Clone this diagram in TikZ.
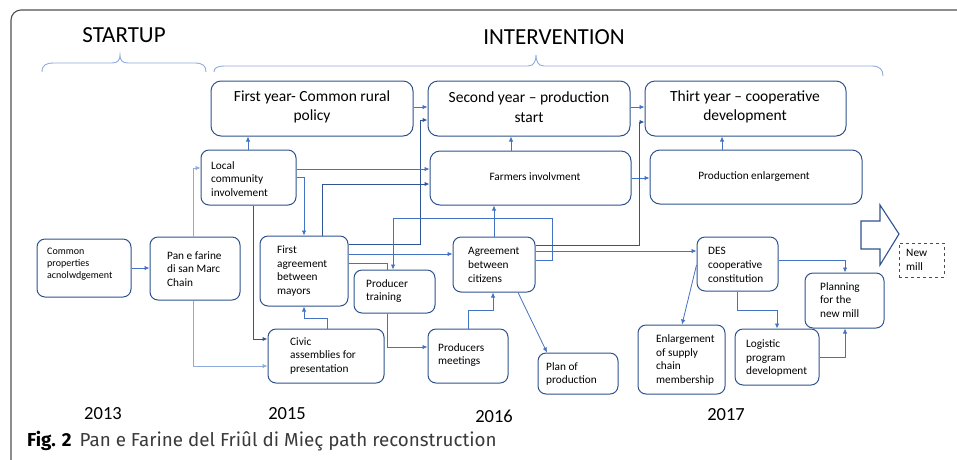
\documentclass[tikz,border=0pt]{standalone}
\usepackage{fontspec}
\setmainfont{Carlito}
\newfontfamily\capfont{Fira Sans}
\usetikzlibrary{arrows.meta}
\definecolor{boxblue}{HTML}{2F528F}
\definecolor{lineblue}{HTML}{4472C4}
\definecolor{darkline}{HTML}{2F5597}
\definecolor{lightline}{HTML}{8FAADC}
\definecolor{framegray}{HTML}{505050}
\definecolor{capgray}{HTML}{3A3A3A}
\newcommand\bx[6][]{\node[box,#1,minimum width={(#5-#3)*1pt},minimum height={(#6-#4)*1pt}] (#2) at ({(#3+#5)/2},{(#4+#6)/2}) {};}
\begin{document}
\begin{tikzpicture}[x=1pt,y=-1pt,
  box/.style={draw=boxblue,fill=white,rounded corners=8pt,line width=1pt,inner sep=0pt},
  bigbox/.style={box,rounded corners=10pt},
  title/.style={align=center,font=\fontsize{15.5}{19.5}\selectfont,inner sep=0pt},
  txt/.style={align=left,font=\fontsize{11.3}{13.7}\selectfont,inner sep=0pt,anchor=west},
  smalltxt/.style={txt,font=\fontsize{10}{12}\selectfont},
  ctxt/.style={align=center,font=\fontsize{11.3}{13.7}\selectfont,inner sep=0pt},
  yeartxt/.style={font=\fontsize{18.5}{20}\selectfont,inner sep=0pt},
  headtxt/.style={font=\fontsize{23}{26}\selectfont,inner sep=0pt},
  conn/.style={draw=lineblue,line width=0.8pt,-{Latex[length=5pt,width=4.5pt]}},
  darkconn/.style={conn,draw=darkline,line width=1pt},
  lightconn/.style={conn,draw=lightline},
  plain/.style={draw=lineblue,line width=0.8pt},
  bracestyle/.style={draw=lightline,line width=0.9pt},
  bigarrow/.style={draw=boxblue,fill=white,line width=1.1pt,line join=miter}
]
\useasboundingbox (0,0) rectangle (957,459);
% frame
\draw[framegray,line width=1.1pt,rounded corners=10pt] (11,462) -- (11,10) -- (960,10);
% headings
\node[headtxt] (hs) at (124,35) {STARTUP};
\node[headtxt] (hi) at (554,37) {INTERVENTION};
% braces
\draw[bracestyle] (42,72) .. controls (42,65) and (46,63) .. (54,63) -- (112,63) .. controls (118,63) and (120,60) .. (120,55) .. controls (120,60) and (122,63) .. (128,63) -- (195,63) .. controls (203,63) and (206,66) .. (206,72);
\draw[bracestyle] (214,72) .. controls (214,68) and (217,66) .. (225,66) -- (528,66) .. controls (534,66) and (536,61) .. (536,55) .. controls (536,61) and (538,66) .. (544,66) -- (872,66) .. controls (880,66) and (883,70) .. (883,76);
% boxes
\bx[bigbox]{fy}{211}{81}{413}{136}
\bx[bigbox]{sy}{428}{81}{630}{136}
\bx[bigbox]{ty}{645}{81}{846}{136}
\bx{lc}{201}{150}{296}{205}
\bx[bigbox]{fi}{430}{151}{631}{205}
\bx[bigbox]{pe}{650}{150}{862}{204}
\bx{cp}{37}{239}{131}{297}
\bx{pf}{150}{237}{240}{300}
\bx{fa}{260}{236}{348}{306}
\bx{pt}{354}{270}{435}{313}
\bx{ca}{268}{329}{384}{383}
\bx{ac}{453}{237}{535}{292}
\bx{pm}{428}{329}{508}{383}
\bx{pp}{538}{353}{618}{394}
\bx{des}{697}{237}{778}{291}
\bx{esc}{638}{325}{725}{394}
\bx{lp}{735}{329}{819}{385}
\bx{pl}{805}{273}{884}{328}
\bx[draw=black!70,dashed,rounded corners=0pt,line width=0.9pt]{nm}{899}{243}{944}{277}
% texts
\node[title] (fyt) at (312,107) {First year- Common rural\\policy};
\node[title] (syt) at (529,107) {Second year – production\\start};
\node[title] (tyt) at (745,107) {Thirt year – cooperative\\development};
\node[txt] (lct) at (211,179) {Local\\community\\involvement};
\node[ctxt] (fit) at (535,177) {Farmers involvment};
\node[ctxt] (pet) at (754,177) {Production enlargement};
\node[smalltxt] (cpt) at (47,264) {Common\\properties\\acnolwdgement};
\node[txt] (pft) at (167,269) {Pan e farine\\di san Marc\\Chain};
\node[txt] (fat) at (277,271) {First\\agreement\\between\\mayors};
\node[txt] (ptt) at (366,291) {Producer\\training};
\node[txt] (cat) at (290,356) {Civic\\assemblies for\\presentation};
\node[txt] (act) at (468,265) {Agreement\\between\\citizens};
\node[txt] (pmt) at (438,355) {Producers\\meetings};
\node[txt] (ppt) at (546,374) {Plan of\\production};
\node[txt] (dest) at (708,265) {DES\\cooperative\\constitution};
\node[txt] (esct) at (656,360) {Enlargement\\of supply\\chain\\membership};
\node[txt] (lpt) at (746,358) {Logistic\\program\\development};
\node[txt] (plt) at (820,300) {Planning\\for the\\new mill};
\node[txt] (nmt) at (906,260) {New\\mill};
% big arrow
\draw[bigarrow] (861,221) -- (880,221) -- (880,205) -- (899,234) -- (880,265) -- (880,249) -- (861,249) -- cycle;
% years
\node[yeartxt] (y13) at (103,414) {2013};
\node[yeartxt] (y15) at (287,414) {2015};
\node[yeartxt] (y16) at (494,416) {2016};
\node[yeartxt] (y17) at (726,415) {2017};
% caption
\node[anchor=west,inner sep=0pt,font=\capfont\fontsize{18.8}{22}\selectfont,text=capgray] (cap) at (27,441) {\textcolor{black}{\bfseries Fig. 2}\hspace{8pt}Pan e Farine del Friûl di Mieç path reconstruction};
% connectors
\draw[conn] (lc.north -| 248,0) -- (fy.south -| 248,0);
\draw[conn] (fy.east |- 0,107) -- (sy.west |- 0,107);
\draw[darkconn] (fa.east |- 0,244) -- (420,244) -- (420,120) -- (sy.west |- 0,120);
\draw[conn] (lc.east |- 0,169) -- (fi.west |- 0,169);
\draw[conn] (lc.east |- 0,177) -- (304,177) -- (fa.north -| 304,0);
\draw[darkconn] (fa.north -| 322,0) -- (322,184) -- (fi.west |- 0,184);
\draw[darkconn] (lc.south -| 253,0) -- (253,339) -- (ca.west |- 0,339);
\draw[lightconn] (pf.north -| 193,0) -- (193,168) -- (lc.west |- 0,168);
\draw[lightconn] (pf.south -| 193,0) -- (193,366) -- (ca.west |- 0,366);
\draw[conn] (cp.east |- 0,268) -- (pf.west |- 0,268);
\draw[conn] (ca.north -| 327,0) -- (327,318) -- (304,318) -- (fa.south -| 304,0);
\draw[conn] (pt.south -| 387,0) -- (387,347) -- (pm.west |- 0,347);
\draw[conn] (pm.north -| 468,0) -- (468,310) -- (493,310) -- (ac.south -| 493,0);
\draw[conn] (ac.south -| 518,0) -- (pp.north -| 547,0);
\draw[conn] (des.west |- 0,265) -- (esc.north -| 682,0);
\draw[conn] (des.south -| 737,0) -- (737,310) -- (777,310) -- (lp.north -| 777,0);
\draw[conn] (lp.east |- 0,357) -- (845,357) -- (pl.south -| 845,0);
\draw[conn] (des.east |- 0,260) -- (845,260) -- (pl.north -| 845,0);
\draw[conn] (fa.east |- 0,254) -- (ac.west |- 0,254);
\draw[plain] (fa.east |- 0,263) -- (387,263) -- (pt.north -| 387,0);
\draw[conn] (ac.east |- 0,260) -- (552,260) -- (552,218) -- (393,218) -- (pt.north -| 393,0);
\draw[conn] (ac.north -| 494,0) -- (fi.south -| 494,0);
\draw[conn] (fi.north -| 511,0) -- (sy.south -| 511,0);
\draw[conn] (fi.east |- 0,178) -- (pe.west |- 0,178);
\draw[darkconn] (ac.east |- 0,245) -- (639,245) -- (639,122) -- (ty.west |- 0,122);
\draw[conn] (sy.east |- 0,107) -- (ty.west |- 0,107);
\draw[conn] (ac.east |- 0,251) -- (des.west |- 0,251);
\draw[conn] (pe.north -| 722,0) -- (ty.south -| 722,0);
\end{tikzpicture}
\end{document}
